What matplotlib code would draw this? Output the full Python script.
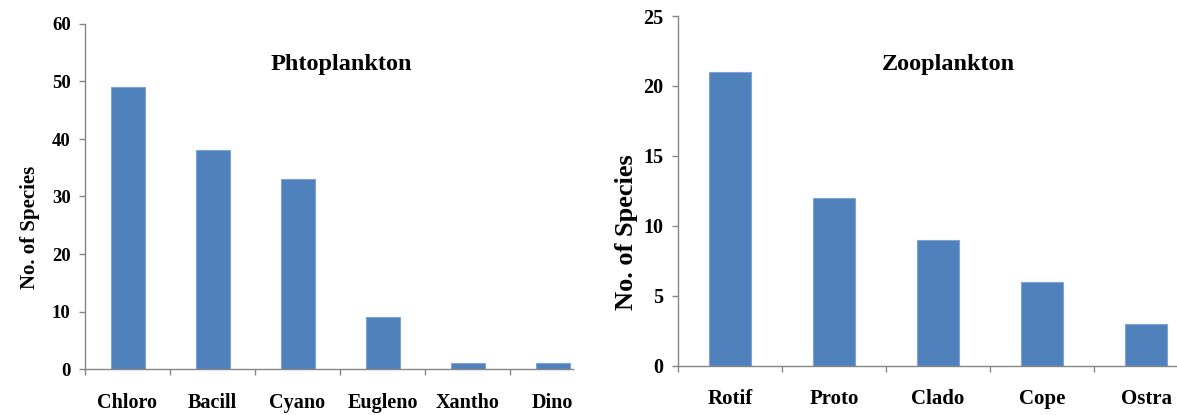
import numpy as np
from matplotlib import pyplot as plt

phytoLabels = ["Chloro", "Bacill", "Cyano", "Eugleno", "Xantho", "Dino"]
phytoCounts = [49, 38, 33, 9, 1, 1]
phytoTicks = [0, 10, 20, 30, 40, 50, 60]

zooLabels = ["Rotif", "Proto", "Clado", "Cope", "Ostra"]
zooCounts = [21, 12, 9, 6, 3]
zooTicks = [0, 5, 10, 15, 20, 25]

W, H = 1177, 415
plt.rcParams["font.family"] = ["Liberation Serif", "DejaVu Serif"]
plt.rcParams["font.weight"] = "bold"

barColor = "#4F81BD"
edgeColor = "#7FA3D3"
axisColor = "#868686"


def styleAxis(ax, labels, counts, ticks, xRight, tickSize, labelSize):
    positions = np.arange(len(labels))
    ax.bar(positions, counts, width=0.4, color=barColor, edgecolor=edgeColor, linewidth=0.8)
    ax.set_yticks(ticks)
    ax.set_xticks(np.arange(len(labels) + 1) - 0.5)
    ax.set_xticklabels([])
    ax.set_xticks(positions, minor=True)
    ax.set_xticklabels(labels, minor=True, fontsize=labelSize, fontweight="bold")
    # limits after the ticks, so the axis stays cut like the original
    ax.set_xlim(-0.5, xRight)
    ax.set_ylim(ticks[0], ticks[-1])
    ax.tick_params(axis="x", which="major", length=4.5, width=1, color=axisColor, direction="out")
    ax.tick_params(axis="x", which="minor", length=0, pad=17)
    ax.tick_params(axis="y", length=4.3, width=1, color=axisColor, pad=6, labelsize=tickSize)
    for lab in ax.get_yticklabels():
        lab.set_fontweight("bold")
    for side in ["top", "right"]:
        ax.spines[side].set_visible(False)
    for side in ["left", "bottom"]:
        ax.spines[side].set_color(axisColor)
        ax.spines[side].set_linewidth(1)


fig = plt.figure(figsize=(W / 100, H / 100), dpi=100)

# left panel
axL = fig.add_axes([85 / W, 1 - 369 / H, 488 / W, 345 / H])
styleAxis(axL, phytoLabels, phytoCounts, phytoTicks, -0.5 + 488 / 85, 13.5, 14.5)
fig.text(341 / W, 1 - 70 / H, "Phtoplankton", ha="center", va="baseline", fontsize=17.5, fontweight="bold")
fig.text(30 / W, 1 - 227 / H, "No. of Species", rotation=90, ha="center", va="center", fontsize=15, fontweight="bold")

# right panel
axR = fig.add_axes([678 / W, 1 - 365.5 / H, 499 / W, 349.5 / H])
styleAxis(axR, zooLabels, zooCounts, zooTicks, -0.5 + 499 / 104, 14.5, 15)
fig.text(948 / W, 1 - 70 / H, "Zooplankton", ha="center", va="baseline", fontsize=17.5, fontweight="bold")
fig.text(626 / W, 1 - 232 / H, "No. of Species", rotation=90, ha="center", va="center", fontsize=19, fontweight="bold")

fig.savefig("out.png", dpi=100)
